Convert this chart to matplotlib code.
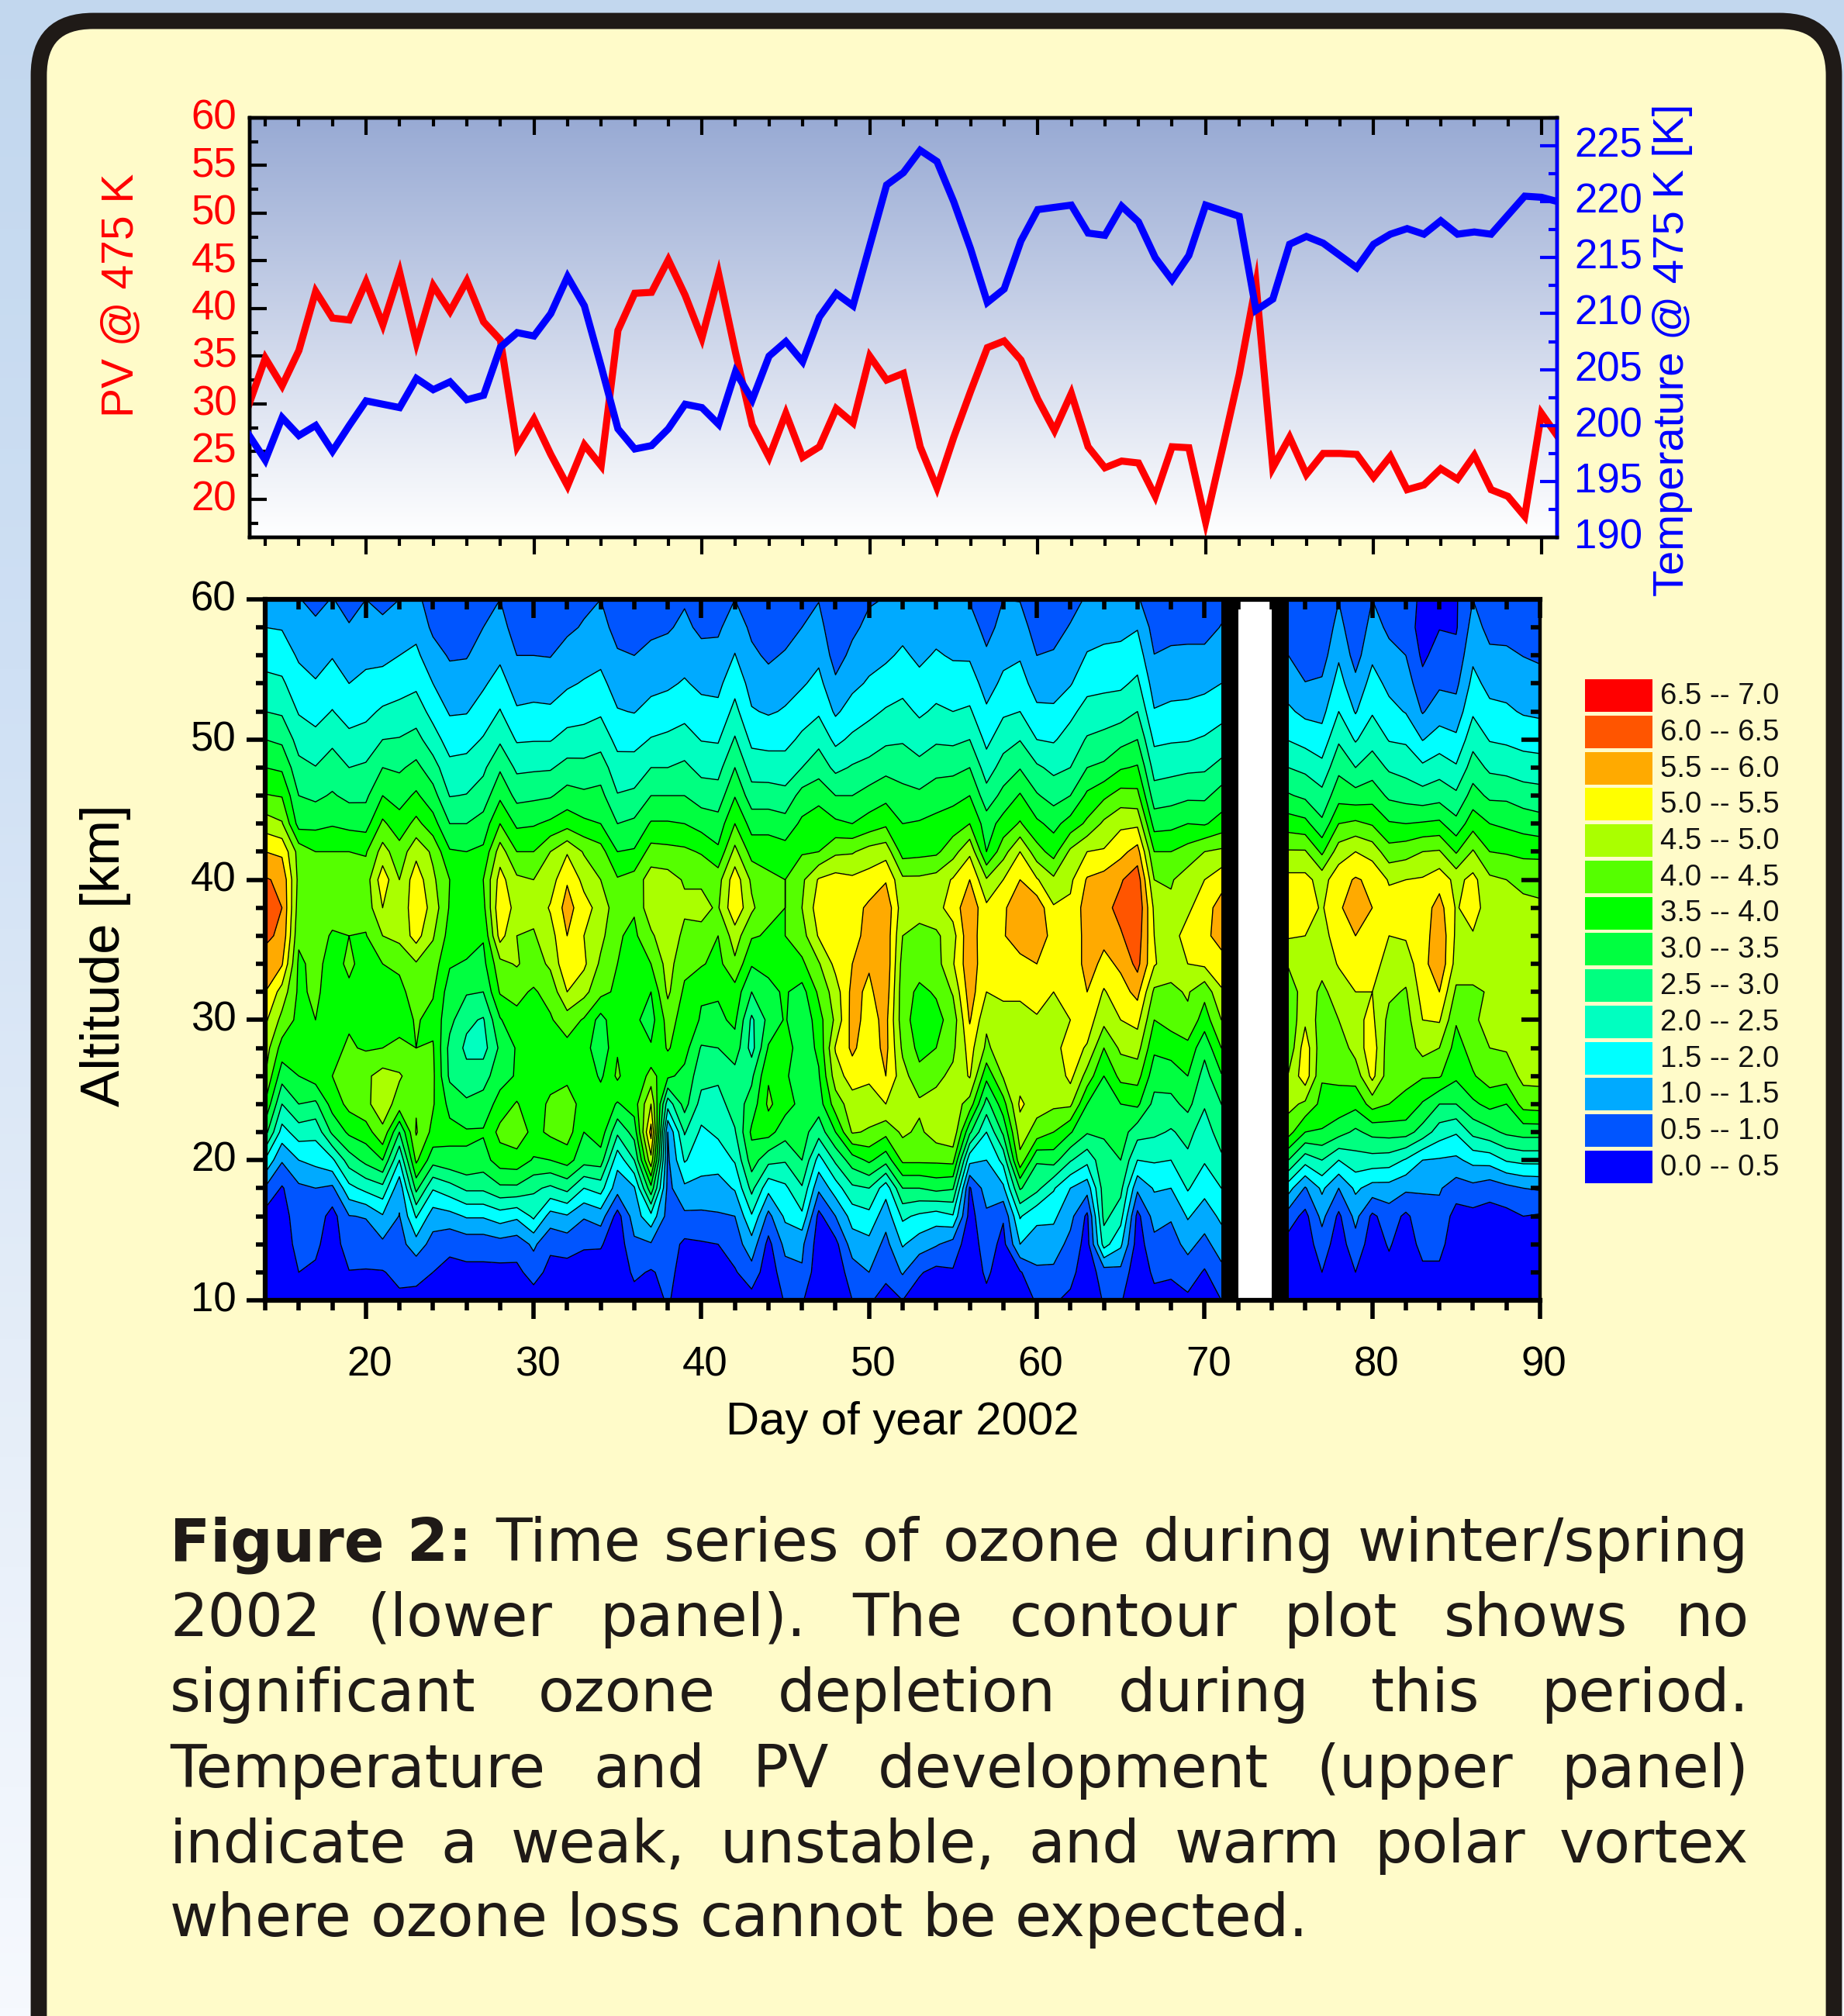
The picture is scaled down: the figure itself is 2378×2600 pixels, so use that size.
import numpy as np
import matplotlib
matplotlib.use("Agg")
import matplotlib.pyplot as plt
from matplotlib.colors import LinearSegmentedColormap, ListedColormap, BoundaryNorm
from matplotlib.patches import FancyBboxPatch, Rectangle
from matplotlib.ticker import MultipleLocator
from matplotlib.transforms import ScaledTranslation

W, H = 2378, 2600

########################################################################
"""upper panel data, one value per day"""
########################################################################
line_days = list(range(13, 92))
pv = [29.8, 34.8, 31.9, 35.6, 41.8, 39.0, 38.8, 42.8, 38.3, 43.8,
      36.4, 42.4, 39.7, 42.9, 38.6, 36.7, 25.5, 28.4, 24.7, 21.4,
      25.7, 23.5, 37.7, 41.6, 41.7, 45.1, 41.4, 36.9, 43.6, 35.4,
      27.8, 24.4, 29.0, 24.4, 25.5, 29.5, 28.0, 35.0, 32.5, 33.2,
      25.5, 21.2, 26.5, 31.3, 35.9, 36.6, 34.6, 30.5, 27.2, 31.1,
      25.5, 23.3, 24.0, 23.8, 20.3, 25.5, 25.4, 17.6, 25.3, 33.1,
      42.6, 23.3, 26.5, 22.6, 24.8, 24.8, 24.7, 22.3, 24.5, 21.0,
      21.5, 23.2, 22.1, 24.6, 21.0, 20.3, 18.2, 29.0, 26.5]
temp = [199.2, 196.9, 200.7, 199.1, 200.0, 197.7, 200.0, 202.2, 201.9, 201.6,
        204.2, 203.2, 203.9, 202.3, 202.7, 207.0, 208.3, 208.0, 210.0, 213.3,
        210.7, 205.3, 199.7, 197.9, 198.2, 199.7, 201.9, 201.6, 200.1, 204.8,
        202.3, 206.2, 207.5, 205.7, 209.7, 211.8, 210.7, 216.1, 221.5, 222.6,
        224.6, 223.6, 220.0, 215.8, 211.0, 212.2, 216.5, 219.3, 219.5, 219.7,
        217.2, 217.0, 219.6, 218.2, 215.0, 213.0, 215.2, 219.7, 219.2, 218.7,
        210.3, 211.3, 216.2, 216.9, 216.3, 215.2, 214.1, 216.2, 217.1, 217.6,
        217.1, 218.3, 217.1, 217.3, 217.1, 218.8, 220.5, 220.4, 220.0]

########################################################################
"""ozone rows, days 14-71 then days 75-90"""
########################################################################
o3_days = list(range(14, 72)) + list(range(75, 91))
altitudes = list(range(10, 61, 2))
o3_10 = [.1, .2, .3, .35, .15, .3, .3, .35, .4, .4,
         .25, .25, .25, .25, .25, .2, .25, .2, .2, .15,
         .15, .1, .3, .3, .55, .25, .2, .15, .2, .3,
         .1, .55, .55, .1, .15, .5, .55, .35, .5, .25,
         .2, .25, .1, .35, .1, .25, .55, .55, .4, .1,
         .55, .55, .1, .35, .35, .4, .25, .5,
         .15, .1, .3, .1, .3, .1, .2, .1, .2, .2, .05, .1, .1, .1, .1, .1]
o3_12 = [.2, .25, .5, .42, .2, .48, .47, .47, .63, .6,
         .5, .38, .38, .38, .35, .38, .7, .35, .3, .3,
         .25, .15, .6, .45, .65, .3, .3, .3, .45, .8,
         .2, .8, .95, .15, .2, .75, 1.0, .6, 1.05, .55,
         .35, .45, .12, .6, .2, .45, .9, .9, .65, .2,
         .75, .85, .15, .6, .55, .75, .45, .85,
         .2, .15, .5, .15, .5, .15, .35, .15, .4, .4, .1, .12, .12, .15, .15, .15]
o3_14 = [.3, .3, .62, .6, .25, .75, .72, .9, .8, 1.3,
         .8, .6, .7, .7, .8, .72, 1.1, .6, .7, .55,
         .55, .2, .9, .95, .75, .4, .45, .5, .75, 1.3,
         .35, 1.15, 1.1, .25, .35, 1.25, 1.35, .85, 1.55, 1.25,
         1.05, .8, .2, .75, .35, 1.5, 1.3, 1.25, .85, .3,
         2.2, 1.6, .25, .85, .8, 1.15, .85, 1.25,
         .3, .25, .75, .25, .8, .25, .55, .25, .65, .65, .2, .2, .2, .2, .25, .25]
o3_16 = [.32, .3, .75, .8, .3, .98, 1.03, 1.45, .98, 2.05,
         1.25, 1.33, 1.55, 1.55, 1.75, 1.6, 2.1, 1.3, 1.45, 1.05,
         1.25, .3, 1.25, 1.85, .8, .9, .9, .95, 1.0, 1.95,
         .85, 1.6, 1.9, .35, 1.0, 1.7, 1.85, 1.2, 2.1, 1.9,
         1.75, 1.95, .3, .9, .55, 2.05, 1.6, 1.6, 1.15, .4,
         2.65, 2.2, .35, 1.2, 1.05, 1.55, 1.25, 1.6,
         .75, .35, 1.15, .4, 1.15, .4, .75, .4, .8, .85, .3, .35, .3, .35, .5, .45]
o3_18 = [.95, .45, .9, 1.0, .9, 1.85, 2.15, 2.35, 1.15, 3.15,
         2.05, 2.3, 2.6, 2.6, 2.9, 2.9, 2.6, 2.4, 2.65, 2.0,
         2.2, 1.2, 1.45, 3.35, .85, 1.4, 1.35, 1.3, 1.55, 2.65,
         1.65, 1.9, 2.45, 1.1, 1.75, 2.4, 2.5, 1.7, 3.0, 3.0,
         3.15, 3.05, .45, 1.25, 1.4, 3.05, 2.65, 2.05, 1.5, 1.2,
         2.75, 2.65, 1.1, 1.55, 1.5, 2.05, 1.65, 2.0,
         1.7, .95, 1.6, 1.0, 1.6, 1.3, 1.3, 1.1, 1.05, 1.05, .75, .85, .7, .85, 1.0, 1.05]
o3_20 = [1.95, 1.05, 1.5, 1.65, 1.9, 2.75, 3.15, 3.5, 2.0, 4.1,
         3.2, 3.35, 3.45, 3.3, 3.75, 3.8, 3.45, 3.5, 3.7, 3.2,
         3.25, 1.67, 2.5, 4.85, .9, 2.05, 1.7, 1.7, 2.05, 3.25,
         2.65, 2.55, 3.0, 1.8, 2.6, 3.25, 3.6, 3.2, 4.1, 4.1,
         4.1, 4.15, 1.65, 1.5, 2.15, 4.35, 3.05, 3.2, 2.55, 2.15,
         2.85, 3.0, 2.0, 2.05, 2.0, 2.4, 2.05, 2.4,
         3.0, 2.2, 2.5, 2.0, 2.3, 2.3, 2.25, 1.95, 1.5, 1.45, 1.4, 1.65, 1.7, 2.05, 2.15, 2.15]
o3_22 = [3.2, 1.8, 2.25, 2.15, 3.1, 3.6, 3.75, 4.4, 3.0, 4.55,
         3.85, 3.65, 3.55, 3.55, 4.15, 4.3, 3.85, 4.1, 4.25, 3.5,
         3.8, 2.6, 3.2, 5.7, 1.0, 2.55, 1.9, 2.1, 2.45, 3.6,
         3.7, 3.2, 3.2, 2.7, 3.5, 4.55, 4.45, 4.15, 4.6, 4.4,
         4.75, 4.9, 3.1, 2.0, 3.1, 4.75, 4.3, 4.0, 3.55, 3.05,
         3.05, 3.25, 2.7, 2.6, 2.45, 2.65, 2.25, 2.75,
         4.2, 3.5, 3.45, 3.2, 2.9, 3.15, 3.2, 3.2, 2.8, 2.25, 2.05, 2.65, 2.85, 3.1, 3.2, 3.2]
o3_24 = [3.95, 2.5, 3.0, 2.9, 3.7, 4.15, 4.4, 4.75, 4.3, 4.45,
         4.05, 3.35, 3.1, 3.2, 3.7, 4.05, 3.6, 4.15, 4.3, 3.75,
         3.85, 3.45, 3.75, 5.0, 2.2, 3.2, 2.3, 2.3, 2.75, 3.2,
         4.1, 3.7, 3.35, 3.25, 4.25, 4.75, 4.75, 5.0, 4.7, 4.6,
         4.65, 4.75, 4.3, 2.8, 3.8, 5.1, 4.7, 4.6, 4.6, 3.5,
         3.25, 3.5, 3.6, 2.85, 2.85, 3.15, 2.55, 3.0,
         4.65, 4.4, 3.85, 3.8, 3.65, 4.2, 4.0, 3.9, 3.45, 3.0, 3.0, 3.4, 3.65, 3.5, 4.2, 4.25]
o3_26 = [4.5, 3.2, 3.5, 3.75, 4.0, 4.15, 4.4, 4.7, 4.55, 4.25,
         4.1, 2.9, 2.65, 2.8, 3.3, 3.55, 3.7, 3.7, 3.85, 3.95,
         3.4, 4.1, 3.5, 4.2, 3.6, 3.35, 2.7, 2.6, 2.8, 2.9,
         3.95, 3.55, 3.3, 3.45, 4.75, 5.25, 5.1, 5.5, 4.7, 4.15,
         4.4, 4.6, 5.05, 3.65, 4.55, 4.75, 4.55, 4.6, 5.15, 4.3,
         3.5, 4.15, 4.2, 3.2, 3.25, 3.5, 2.8, 3.45,
         4.55, 5.3, 4.05, 4.1, 4.2, 5.15, 4.2, 4.1, 4.05, 4.05, 3.6, 3.95, 4.25, 4.2, 4.65, 4.65]
o3_28 = [4.75, 3.8, 3.85, 3.75, 3.9, 4.05, 3.95, 4.0, 4.15, 4.0,
         4.05, 2.85, 2.4, 2.3, 3.1, 3.55, 3.85, 3.75, 3.85, 3.75,
         3.1, 3.95, 3.65, 3.55, 4.05, 3.7, 2.95, 3.0, 3.3, 2.3,
         3.55, 3.75, 3.2, 3.6, 5.05, 5.6, 5.2, 5.65, 4.4, 3.85,
         4.0, 4.4, 5.2, 4.4, 4.8, 4.85, 4.75, 4.85, 5.2, 4.95,
         4.0, 4.6, 4.7, 3.6, 3.7, 3.85, 3.15, 4.0,
         4.1, 5.3, 4.15, 4.2, 4.7, 5.3, 4.2, 4.2, 4.7, 4.5, 3.8, 4.2, 4.5, 4.55, 4.65, 4.65]
o3_30 = [5.1, 4.35, 3.85, 4.0, 3.75, 3.95, 3.55, 3.65, 3.75, 4.05,
         3.85, 3.15, 2.6, 2.45, 3.45, 3.9, 3.9, 3.95, 4.25, 3.95,
         3.3, 3.9, 3.6, 3.3, 4.2, 3.8, 3.45, 3.4, 3.6, 2.4,
         3.15, 3.55, 3.05, 3.8, 4.6, 5.7, 5.3, 5.65, 4.2, 3.75,
         3.85, 4.2, 5.55, 4.6, 4.9, 4.8, 4.95, 4.75, 5.0, 5.25,
         4.65, 5.0, 5.15, 4.0, 4.2, 4.4, 3.75, 4.5,
         4.1, 4.9, 4.25, 4.5, 4.9, 5.1, 4.35, 4.3, 5.0, 5.05, 4.05, 4.45, 4.6, 4.6, 4.6, 4.6]
o3_32 = [5.5, 4.8, 3.9, 4.1, 3.75, 3.9, 3.6, 3.8, 3.85, 4.25,
         4.05, 3.25, 3.05, 3.0, 4.05, 4.1, 3.95, 4.15, 5.0, 4.65,
         4.15, 3.9, 3.7, 3.5, 4.6, 3.9, 3.55, 3.55, 3.8, 3.0,
         3.4, 3.55, 3.3, 4.1, 4.75, 5.65, 5.4, 5.8, 4.2, 3.9,
         4.05, 4.55, 5.75, 5.0, 5.05, 5.1, 5.2, 5.0, 5.05, 5.5,
         4.95, 5.3, 5.65, 4.4, 4.4, 4.55, 4.15, 4.95,
         4.2, 4.75, 4.4, 4.7, 5.0, 5.0, 4.6, 4.45, 5.2, 5.5, 4.4, 4.4, 4.55, 4.55, 4.6, 4.6]
o3_34 = [5.8, 5.55, 3.9, 4.15, 3.8, 4.1, 3.8, 4.0, 4.1, 4.45,
         4.25, 3.55, 3.45, 3.35, 4.35, 4.55, 4.25, 4.6, 5.4, 5.1,
         4.4, 4.0, 3.8, 4.0, 4.7, 4.15, 4.05, 3.85, 4.4, 3.55,
         3.6, 3.7, 3.9, 4.45, 5.15, 5.5, 5.55, 5.9, 4.3, 4.2,
         4.3, 4.95, 5.85, 5.1, 5.3, 5.3, 5.5, 5.1, 5.0, 5.75,
         5.35, 5.6, 6.15, 5.05, 4.7, 5.0, 5.1, 5.25,
         4.55, 4.55, 4.65, 5.05, 5.15, 5.05, 4.95, 4.75, 5.3, 5.9, 4.8, 4.8, 4.6, 4.6, 4.6, 4.6]
o3_36 = [6.1, 5.9, 4.1, 4.2, 3.95, 4.0, 3.97, 4.5, 4.65, 5.2,
         4.55, 3.8, 3.75, 3.55, 5.2, 4.5, 4.45, 4.8, 5.5, 5.0,
         4.65, 4.05, 3.9, 4.4, 4.9, 4.35, 4.4, 4.0, 4.75, 4.05,
         3.95, 4.0, 4.3, 5.05, 5.3, 5.45, 5.55, 5.85, 4.5, 4.3,
         4.4, 4.8, 5.9, 5.0, 5.45, 5.85, 5.85, 5.3, 5.1, 5.7,
         5.65, 5.95, 6.3, 5.0, 4.8, 5.2, 5.35, 5.75,
         5.05, 5.0, 4.85, 5.2, 5.5, 5.3, 5.0, 5.05, 5.2, 5.9, 4.9, 4.95, 4.7, 4.6, 4.55, 4.55]
o3_38 = [6.3, 6.0, 4.25, 4.25, 4.2, 4.25, 4.2, 5.0, 4.55, 5.4,
         4.8, 3.95, 3.85, 3.85, 5.4, 4.8, 4.65, 5.05, 5.7, 5.2,
         4.8, 4.2, 4.05, 4.85, 4.85, 4.6, 4.6, 4.45, 5.4, 4.6,
         4.1, 4.0, 4.5, 5.25, 5.4, 5.3, 5.6, 5.9, 4.7, 4.75,
         4.85, 5.2, 5.9, 5.1, 5.4, 5.9, 5.85, 5.05, 5.1, 5.75,
         5.85, 6.15, 6.45, 4.9, 4.6, 4.9, 5.3, 5.7,
         5.4, 5.2, 4.95, 5.4, 5.85, 5.5, 5.2, 5.25, 5.25, 5.7, 4.95, 5.25, 4.7, 4.6, 4.55, 4.55]
o3_40 = [6.05, 5.9, 4.35, 4.2, 4.2, 4.2, 4.25, 5.3, 4.5, 5.3,
         4.6, 4.0, 3.95, 4.0, 5.2, 4.6, 4.5, 4.75, 5.45, 4.85,
         4.5, 4.05, 4.2, 4.75, 4.7, 4.45, 4.45, 4.3, 5.3, 4.4,
         4.1, 4.0, 4.4, 5.05, 5.2, 5.1, 5.2, 5.45, 4.6, 4.6,
         4.7, 5.05, 5.5, 4.55, 5.0, 5.5, 5.05, 4.6, 4.9, 5.55,
         5.7, 5.95, 6.3, 4.5, 4.45, 4.75, 5.0, 5.3,
         5.15, 5.15, 4.8, 5.3, 5.55, 5.4, 4.95, 5.0, 5.05, 5.3, 4.85, 5.15, 4.6, 4.5, 4.45, 4.4]
o3_42 = [5.5, 5.4, 4.3, 4.0, 4.0, 4.0, 3.95, 4.7, 4.2, 4.85,
         4.4, 3.55, 3.5, 3.6, 4.75, 4.0, 4.0, 4.5, 4.95, 4.45,
         4.2, 3.5, 3.55, 4.2, 4.15, 4.1, 3.95, 3.6, 4.65, 3.8,
         3.8, 3.7, 3.95, 4.0, 4.4, 4.45, 4.7, 4.8, 3.8, 3.85,
         3.9, 4.3, 4.9, 3.5, 4.3, 5.0, 4.2, 3.8, 4.6, 5.0,
         5.05, 5.35, 5.7, 4.0, 4.0, 4.2, 4.5, 4.6,
         4.55, 4.55, 3.9, 4.75, 5.0, 4.8, 4.2, 4.3, 4.5, 4.55, 3.95, 4.55, 4.0, 3.95, 3.85, 3.85]
o3_44 = [4.75, 4.55, 3.3, 3.35, 3.45, 3.35, 3.3, 4.1, 3.7, 4.15,
         3.7, 3.0, 3.0, 3.2, 4.0, 3.4, 3.45, 3.6, 3.8, 3.6,
         3.5, 3.0, 3.1, 3.55, 3.55, 3.5, 3.3, 3.2, 4.0, 3.3,
         3.3, 3.2, 3.6, 3.85, 3.6, 3.5, 3.7, 3.9, 3.5, 3.55,
         3.65, 3.75, 4.0, 3.25, 3.7, 4.05, 3.6, 3.35, 3.7, 4.1,
         4.6, 4.9, 4.9, 3.3, 3.35, 3.5, 3.45, 3.7,
         3.75, 3.65, 3.1, 4.0, 4.1, 3.95, 3.55, 3.5, 3.55, 3.6, 3.15, 3.8, 3.5, 3.4, 3.3, 3.2]
o3_46 = [4.03, 3.97, 3.0, 2.9, 3.05, 2.88, 2.9, 3.5, 3.3, 3.58,
         3.2, 2.48, 2.52, 2.73, 3.4, 2.85, 2.9, 2.95, 3.2, 3.1,
         3.15, 2.53, 2.6, 3.0, 3.0, 3.0, 2.77, 2.72, 3.47, 2.72,
         2.72, 2.65, 3.2, 3.3, 3.0, 3.0, 3.2, 3.35, 3.15, 3.1,
         3.25, 3.35, 3.5, 2.7, 3.15, 3.55, 3.05, 2.8, 3.0, 3.6,
         3.9, 4.2, 4.15, 2.73, 2.8, 2.9, 2.9, 3.2,
         3.05, 2.9, 2.65, 3.3, 3.2, 3.3, 2.9, 2.8, 2.7, 2.8, 2.6, 3.2, 2.9, 2.9, 2.75, 2.7]
o3_48 = [3.5, 3.42, 2.65, 2.52, 2.72, 2.5, 2.57, 3.0, 2.93, 3.13,
         2.72, 2.14, 2.18, 2.4, 2.93, 2.4, 2.43, 2.45, 2.67, 2.65,
         2.75, 2.2, 2.22, 2.5, 2.5, 2.6, 2.35, 2.33, 3.0, 2.27,
         2.25, 2.22, 2.5, 2.8, 2.37, 2.55, 2.65, 2.85, 2.8, 2.65,
         2.85, 2.85, 3.0, 2.25, 2.7, 2.97, 2.58, 2.38, 2.5, 3.0,
         3.1, 3.45, 3.55, 2.3, 2.35, 2.4, 2.43, 2.65,
         2.5, 2.38, 2.15, 2.88, 2.5, 2.75, 2.43, 2.32, 2.1, 2.28, 2.06, 2.74, 2.4, 2.33, 2.24, 2.2]
o3_50 = [3.0, 2.9, 2.3, 2.15, 2.4, 2.13, 2.2, 2.5, 2.53, 2.67,
         2.22, 1.78, 1.82, 2.04, 2.42, 1.95, 1.97, 1.97, 2.17, 2.2,
         2.3, 1.85, 1.83, 2.03, 2.1, 2.2, 1.98, 1.95, 2.55, 1.88,
         1.83, 1.85, 2.1, 2.35, 1.88, 2.1, 2.25, 2.4, 2.45, 2.27,
         2.43, 2.4, 2.5, 1.87, 2.3, 2.48, 2.0, 1.95, 2.2, 2.55,
         2.65, 2.83, 3.0, 1.9, 1.95, 1.97, 2.05, 2.2,
         1.98, 1.83, 1.7, 2.43, 1.95, 2.33, 1.97, 1.93, 1.48, 1.72, 1.6, 2.32, 1.97, 1.92, 1.83, 1.8]
o3_52 = [2.5, 2.43, 1.96, 1.82, 2.02, 1.8, 1.88, 2.07, 2.15, 2.25,
         1.83, 1.45, 1.47, 1.72, 2.03, 1.56, 1.6, 1.58, 1.77, 1.83,
         1.93, 1.53, 1.48, 1.66, 1.74, 1.85, 1.67, 1.62, 2.15, 1.54,
         1.45, 1.54, 1.77, 1.93, 1.42, 1.71, 1.88, 2.05, 2.15, 1.92,
         2.08, 2.0, 2.07, 1.57, 1.92, 2.0, 1.6, 1.58, 1.88, 2.18,
         2.23, 2.28, 2.5, 1.53, 1.6, 1.63, 1.7, 1.84,
         1.58, 1.38, 1.35, 2.0, 1.46, 1.95, 1.65, 1.47, .96, 1.27, 1.2, 1.93, 1.63, 1.58, 1.45, 1.4]
o3_54 = [2.15, 2.08, 1.7, 1.54, 1.74, 1.5, 1.62, 1.7, 1.8, 1.9,
         1.5, 1.2, 1.22, 1.43, 1.7, 1.27, 1.3, 1.27, 1.43, 1.54,
         1.63, 1.29, 1.25, 1.36, 1.42, 1.55, 1.39, 1.38, 1.82, 1.32,
         1.18, 1.34, 1.44, 1.65, 1.09, 1.38, 1.56, 1.7, 1.83, 1.64,
         1.8, 1.72, 1.73, 1.31, 1.6, 1.7, 1.29, 1.3, 1.46, 1.84,
         1.88, 1.91, 2.1, 1.27, 1.33, 1.33, 1.38, 1.5,
         1.28, 1.02, 1.07, 1.7, 1.13, 1.7, 1.37, 1.26, .65, .92, .88, 1.65, 1.35, 1.32, 1.22, 1.18]
o3_56 = [1.8, 1.77, 1.43, 1.3, 1.47, 1.26, 1.38, 1.37, 1.5, 1.6,
         1.2, .95, .97, 1.2, 1.4, 1.0, 1.0, .98, 1.2, 1.28,
         1.37, 1.05, 1.0, 1.12, 1.18, 1.3, 1.15, 1.15, 1.52, 1.1,
         .92, 1.05, 1.22, 1.38, .8, 1.12, 1.33, 1.42, 1.58, 1.4,
         1.55, 1.45, 1.44, 1.07, 1.38, 1.45, 1.0, 1.04, 1.24, 1.53,
         1.58, 1.6, 1.77, 1.01, 1.07, 1.1, 1.1, 1.25,
         1.0, .7, .78, 1.43, .8, 1.4, 1.15, 1.0, .4, .7, .65, 1.4, 1.1, 1.08, .99, .92]
o3_58 = [1.5, 1.47, 1.25, 1.08, 1.25, 1.03, 1.2, 1.1, 1.3, 1.35,
         .9, .75, .75, 1.0, 1.17, .8, .8, .78, .9, 1.05,
         1.15, .85, .8, .9, .95, 1.1, .9, .92, 1.27, .9,
         .7, .8, 1.0, 1.17, .65, .9, 1.12, 1.2, 1.35, 1.2,
         1.33, 1.27, 1.2, .85, 1.15, 1.2, .8, .85, 1.03, 1.3,
         1.38, 1.4, 1.47, .8, .87, .85, .85, 1.02,
         .75, .55, .6, 1.2, .6, 1.2, .9, .75, .3, .48, .45, 1.2, .85, .85, .75, .7]
o3_60 = [1.2, 1.15, 1.02, .88, 1.02, .85, 1.0, .88, 1.0, 1.05,
         .9, .7, .7, .85, 1.0, .7, .7, .7, .8, .88,
         1.0, .75, .7, .8, .85, .95, .75, .75, 1.0, .7,
         .6, .65, .85, .98, .6, .8, .95, 1.02, 1.1, 1.05,
         1.1, 1.1, .97, .7, 1.0, .98, .7, .7, .85, 1.05,
         1.1, 1.1, 1.05, .7, .72, .75, .75, .85,
         .75, .6, .65, .98, .65, 1.0, .82, .7, .4, .45, .45, 1.0, .8, .8, .75, .7]

o3_rows = [o3_10, o3_12, o3_14, o3_16, o3_18, o3_20, o3_22, o3_24, o3_26,
           o3_28, o3_30, o3_32, o3_34, o3_36, o3_38, o3_40, o3_42, o3_44,
           o3_46, o3_48, o3_50, o3_52, o3_54, o3_56, o3_58, o3_60]

levels = [0, .5, 1, 1.5, 2, 2.5, 3, 3.5, 4, 4.5, 5, 5.5, 6, 6.5, 7]
level_colors = ["#0000ff", "#0055ff", "#00aaff", "#00ffff", "#00ffc0", "#00ff80", "#00ff40",
                "#00ff00", "#55ff00", "#aaff00", "#ffff00", "#ffaa00", "#ff5500", "#ff0000"]
legend_labels = ["0.0 -- 0.5", "0.5 -- 1.0", "1.0 -- 1.5", "1.5 -- 2.0", "2.0 -- 2.5", "2.5 -- 3.0", "3.0 -- 3.5",
                 "3.5 -- 4.0", "4.0 -- 4.5", "4.5 -- 5.0", "5.0 -- 5.5", "5.5 -- 6.0", "6.0 -- 6.5", "6.5 -- 7.0"]

caption_lines = ["Figure 2: Time series of ozone during winter/spring",
                 "2002 (lower panel). The contour plot shows no",
                 "significant ozone depletion during this period.",
                 "Temperature and PV development (upper panel)",
                 "indicate a weak, unstable, and warm polar vortex",
                 "where ozone loss cannot be expected."]

plt.rcParams['font.family'] = ['Liberation Sans', 'DejaVu Sans']

fig = plt.figure(figsize=(W/100, H/100), dpi=100)


def ax_px(left, top, right, bottom):
    return fig.add_axes([left/W, 1-bottom/H, (right-left)/W, (bottom-top)/H])


def nudge(labels, dx, dy):
    # move tick labels by some pixels, the picture has them a bit off the ticks
    off = ScaledTranslation(dx/100, dy/100, fig.dpi_scale_trans)
    for lab in labels:
        lab.set_transform(lab.get_transform() + off)


########################################################################
"""background and rounded panel"""
########################################################################
bg = fig.add_axes([0, 0, 1, 1])
bg_map = LinearSegmentedColormap.from_list("bg", ["#c2d7ee", "#cfe0f4", "#e4edf8", "#f6f9fe"])
bg.imshow(np.linspace(0, 1, 256)[:, None], cmap=bg_map, aspect='auto', extent=[0, W, H, 0])
bg.set_xlim(0, W)
bg.set_ylim(H, 0)
bg.axis('off')
bg.add_patch(FancyBboxPatch((50, 27), 2315, 2800, boxstyle="round,pad=0,rounding_size=70",
                            fc="#fffbc9", ec="#1f1a17", lw=15))

########################################################################
"""upper panel"""
########################################################################
ax1 = ax_px(322, 152, 2008, 693)
grad = LinearSegmentedColormap.from_list("sky", ["#98aad4", "#ffffff"])
ax1.imshow(np.linspace(0, 1, 256)[:, None], cmap=grad, aspect='auto',
           extent=[13.07, 90.93, 16, 60], zorder=0)
ax1.plot(line_days, pv, color="#ff0000", lw=6.6, solid_joinstyle='miter', zorder=2)
ax1.set_xlim(13.07, 90.93)
ax1.set_ylim(16, 60)
ax1.xaxis.set_major_locator(MultipleLocator(10))
ax1.xaxis.set_minor_locator(MultipleLocator(2))
ax1.set_yticks(range(20, 61, 5))
ax1.yaxis.set_minor_locator(MultipleLocator(2.5))
ax1.tick_params(axis='x', which='major', direction='out', bottom=True, top=False,
                length=16, width=3, labelbottom=False)
ax1.tick_params(axis='x', which='minor', direction='out', bottom=True, top=False, length=8, width=3)
ax1.tick_params(axis='y', which='major', direction='in', length=16, width=3,
                labelsize=38, labelcolor="#ff0000", pad=12)
ax1.tick_params(axis='y', which='minor', direction='in', length=8, width=3)
nudge(ax1.get_yticklabels(), 0, 5)
for s in ax1.spines.values():
    s.set_linewidth(3.2)

ax2 = ax1.twinx()
ax2.plot(line_days, temp, color="#0000ff", lw=6.6, solid_joinstyle='miter', zorder=3)
ax2.set_xlim(13.07, 90.93)
ax2.set_ylim(190, 227.5)
ax2.set_yticks(range(190, 226, 5))
ax2.yaxis.set_minor_locator(MultipleLocator(2.5))
ax2.tick_params(axis='y', which='major', direction='in', length=16, width=3, color="#0000ff",
                labelsize=38, labelcolor="#0000ff", pad=16)
ax2.tick_params(axis='y', which='minor', direction='in', length=8, width=3, color="#0000ff")
nudge(ax2.get_yticklabels(), 0, 5)
for s in ax2.spines.values():
    s.set_linewidth(3.2)
ax2.spines['right'].set_color("#0000ff")
# top ticks point inward, drawn on a helper axis so the bottom ones can stay outward
ax_top = ax1.secondary_xaxis('top')
ax_top.xaxis.set_major_locator(MultipleLocator(10))
ax_top.xaxis.set_minor_locator(MultipleLocator(2))
ax_top.tick_params(axis='x', which='major', direction='in', length=16, width=3, labeltop=False)
ax_top.tick_params(axis='x', which='minor', direction='in', length=8, width=3)
ax_top.spines['top'].set_visible(False)
ax_top.set_zorder(8)

fig.text(156/W, 1-381/H, "PV @ 475 K", color="#ff0000", fontsize=41, rotation=90, ha='center', va='center')
fig.text(2157/W, 1-451/H, "Temperature @ 475 K [K]", color="#0000ff", fontsize=40.5, rotation=90, ha='center', va='center')

########################################################################
"""lower panel"""
########################################################################
ax3 = ax_px(342, 773, 1986, 1677)
cmap = ListedColormap(level_colors)
norm = BoundaryNorm(levels, cmap.N)
ax3.contourf(o3_days, altitudes, np.array(o3_rows), levels=levels, cmap=cmap, norm=norm)
ax3.contour(o3_days, altitudes, np.array(o3_rows), levels=levels[1:-1], colors='black', linewidths=1.0)
ax3.axvspan(71, 72, color='black', lw=0, zorder=4)
ax3.axvspan(72, 74, color='white', lw=0, zorder=4)
ax3.axvspan(74, 75, color='black', lw=0, zorder=4)
ax3.set_xlim(14, 90)
ax3.set_ylim(10, 60)
ax3.set_xticks(range(20, 91, 10))
ax3.set_yticks(range(10, 61, 10))
ax3.xaxis.set_minor_locator(MultipleLocator(2))
ax3.yaxis.set_minor_locator(MultipleLocator(2))
ax3.tick_params(axis='both', which='major', length=17, width=4, labelsize=38, pad=10, direction='out')
ax3.tick_params(axis='both', which='minor', length=9, width=4, direction='out')
ax3.tick_params(axis='x', which='major', pad=25)
nudge(ax3.get_yticklabels(), 0, 5)
nudge(ax3.get_xticklabels(), 5, 0)
ax3.spines['left'].set_linewidth(4.5)
ax3.spines['bottom'].set_linewidth(4.5)
ax3.spines['top'].set_linewidth(4.5)
ax3.spines['right'].set_linewidth(3.2)
for s in ax3.spines.values():
    s.set_zorder(6)
# inward ticks on the top and right edges
top3 = ax3.secondary_xaxis('top')
top3.set_xticks(range(20, 91, 10))
top3.xaxis.set_minor_locator(MultipleLocator(2))
top3.tick_params(axis='x', which='major', direction='in', length=17, width=4, labeltop=False)
top3.tick_params(axis='x', which='minor', direction='in', length=9, width=4)
top3.spines['top'].set_visible(False)
top3.set_zorder(8)
right3 = ax3.secondary_yaxis('right')
right3.set_yticks(range(10, 61, 10))
right3.yaxis.set_minor_locator(MultipleLocator(2))
right3.tick_params(axis='y', which='major', direction='in', length=17, width=4, labelright=False)
right3.tick_params(axis='y', which='minor', direction='in', length=9, width=4)
right3.spines['right'].set_visible(False)
right3.set_zorder(8)

fig.text(136/W, 1-1232/H, "Altitude [km]", color='black', fontsize=51, rotation=90, ha='center', va='center')
fig.text(1164/W, 1-1834/H, "Day of year 2002", color='black', fontsize=43, ha='center', va='center')

########################################################################
"""legend"""
########################################################################
leg = fig.add_axes([0, 0, 1, 1], facecolor='none')
leg.set_xlim(0, W)
leg.set_ylim(H, 0)
leg.axis('off')
for i, (c, lab) in enumerate(zip(level_colors[::-1], legend_labels[::-1])):
    y0 = 876 + i*46.75
    leg.add_patch(Rectangle((2044, y0), 87, 42, fc=c, ec='none'))
    leg.text(2141, y0+22, lab, fontsize=27.5, color='#111111', va='center', ha='left')

########################################################################
"""caption, justified word by word"""
########################################################################
cap_left, cap_right = 219, 2255
cap_base = [2013, 2110, 2207, 2305, 2402, 2497]
renderer = fig.canvas.get_renderer()
for n, (line, yb) in enumerate(zip(caption_lines, cap_base)):
    words = line.split(" ")
    items = []
    for k, w in enumerate(words):
        bold = n == 0 and k < 2
        t = leg.text(0, yb, w, fontsize=55, family='DejaVu Sans', color='#1f1a17',
                     fontweight='bold' if bold else 'normal', va='baseline', ha='left')
        items.append((t, t.get_window_extent(renderer).width))
    total = sum(i[1] for i in items)
    if n < len(caption_lines)-1:
        gap = (cap_right-cap_left-total)/(len(words)-1)
    else:
        gap = 24
    x = cap_left
    for t, wd in items:
        t.set_x(x)
        x += wd+gap

fig.savefig("out.png", dpi=100)
